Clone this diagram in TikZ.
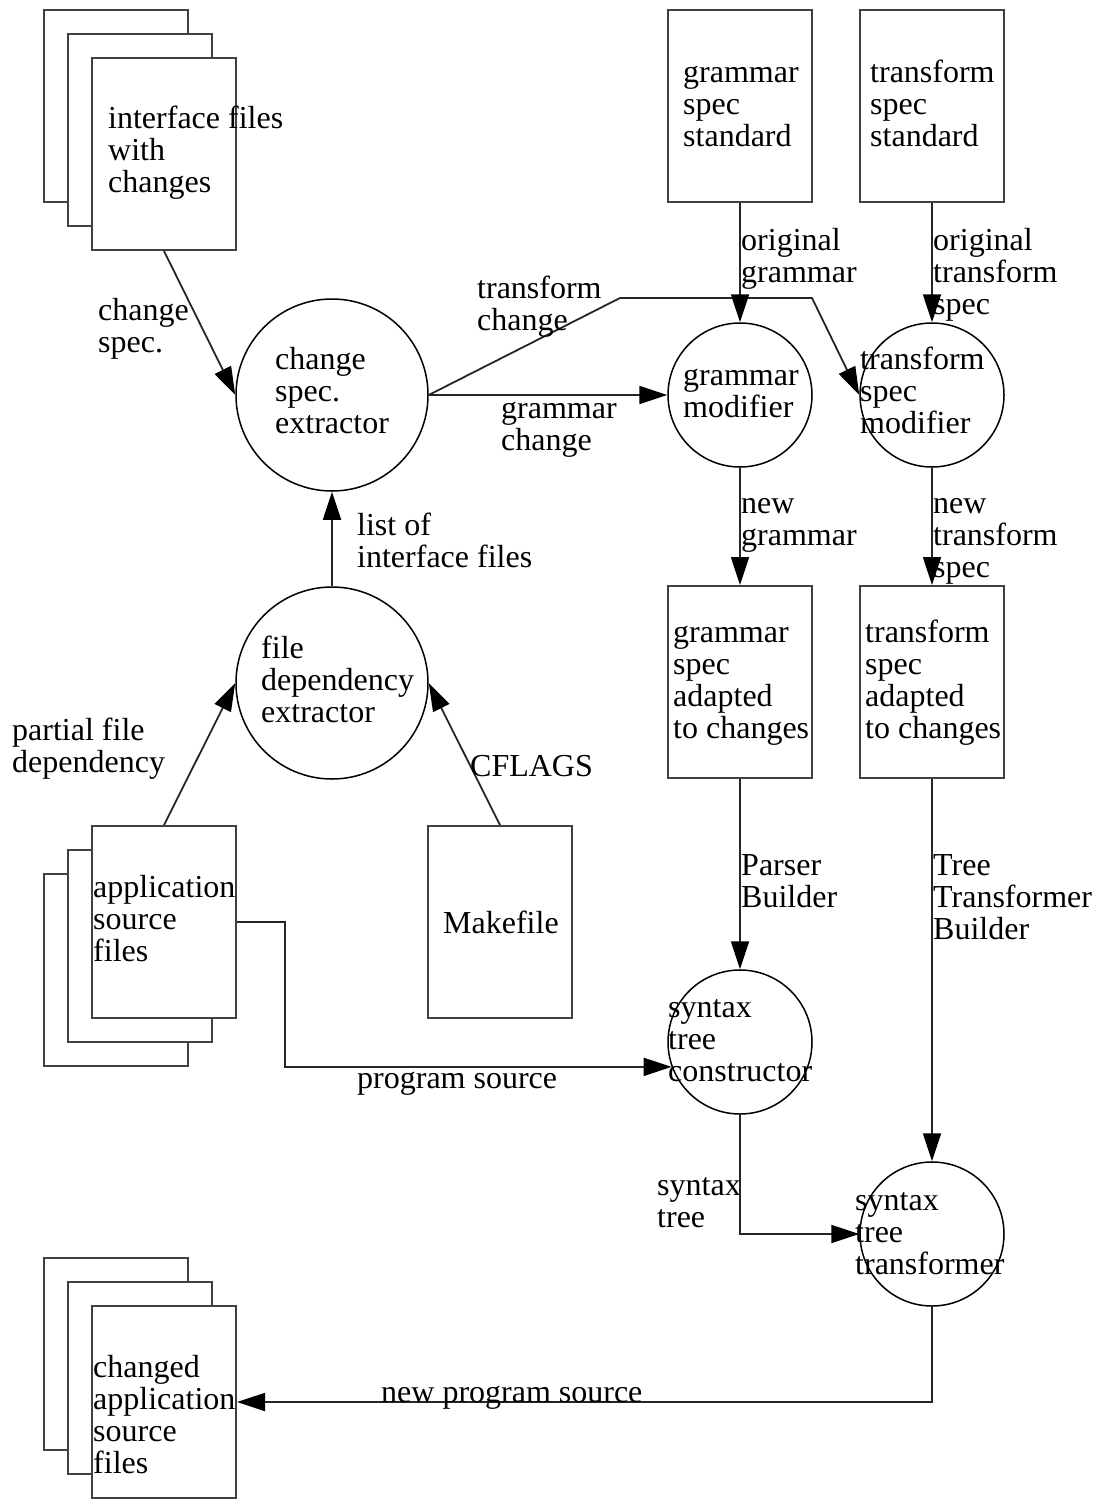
\documentclass[tikz,border=0pt]{standalone}
\usepackage{fontspec}
\setmainfont{Liberation Serif}
\usetikzlibrary{arrows.meta}
\newcommand\mlines[1]{\vtop{\baselineskip=32pt\lineskiplimit=-1000pt\halign{##\hfil\cr#1\crcr}}}
\tikzset{
  doc/.style={draw=black!75, line width=2pt, fill=white, minimum width=144pt, minimum height=192pt, inner sep=0pt},
  proc/.style={circle, draw=black, line width=1.5pt, inner sep=0pt},
  bigproc/.style={proc, minimum size=192pt},
  smallproc/.style={proc, minimum size=144pt},
  txt/.style={anchor=base west, inner sep=0pt, font=\fontsize{32}{32}\selectfont},
  link/.style={draw=black!85, line width=1.8pt},
  flow/.style={link, -{Triangle[length=28pt,width=18pt,color=black]}},
}
\begin{document}
\begin{tikzpicture}[x=1pt,y=-1pt]
\fill[white] (0,0) rectangle (1097,1499);
\useasboundingbox (0,0) rectangle (1097,1499);

% stacked documents
\node[doc] (if1) at (116,106) {};
\node[doc] (if2) at (140,130) {};
\node[doc] (if3) at (164,154) {};
\node[doc] (app1) at (116,970) {};
\node[doc] (app2) at (140,946) {};
\node[doc] (app3) at (164,922) {};
\node[doc] (chg1) at (116,1354) {};
\node[doc] (chg2) at (140,1378) {};
\node[doc] (chg3) at (164,1402) {};
% single documents
\node[doc] (gss) at (740,106) {};
\node[doc] (tss) at (932,106) {};
\node[doc] (gsa) at (740,682) {};
\node[doc] (tsa) at (932,682) {};
\node[doc] (mk) at (500,922) {};
% processes
\node[bigproc] (cse) at (332,395) {};
\node[bigproc] (fde) at (332,683) {};
\node[smallproc] (gm) at (740,395) {};
\node[smallproc] (tsm) at (932,395) {};
\node[smallproc] (stc) at (740,1042) {};
\node[smallproc] (stt) at (932,1234) {};

% texts inside shapes
\node[txt] (tif) at (108,128) {\mlines{interface files\cr with\cr changes}};
\node[txt] (tapp) at (93,897) {\mlines{application\cr source\cr files}};
\node[txt] (tchg) at (93,1377) {\mlines{changed\cr application\cr source\cr files}};
\node[txt] (tgss) at (683,82) {\mlines{grammar\cr spec\cr standard}};
\node[txt] (ttss) at (870,82) {\mlines{transform\cr spec\cr standard}};
\node[txt] (tgsa) at (673,642) {\mlines{grammar\cr spec\cr adapted\cr to changes}};
\node[txt] (ttsa) at (865,642) {\mlines{transform\cr spec\cr adapted\cr to changes}};
\node[txt] (tmk) at (443,933) {Makefile};
\node[txt] (tcse) at (275,369) {\mlines{change\cr spec.\cr extractor}};
\node[txt] (tfde) at (261,658) {\mlines{file\cr dependency\cr extractor}};
\node[txt] (tgm) at (683,385) {\mlines{grammar\cr modifier}};
\node[txt] (ttsm) at (860,369) {\mlines{transform\cr spec\cr modifier}};
\node[txt] (tstc) at (668,1017) {\mlines{syntax\cr tree\cr constructor}};
\node[txt] (tstt) at (855,1210) {\mlines{syntax\cr tree\cr transformer}};

% connectors
\coordinate (tc1) at (620,298);
\coordinate (tc2) at (812,298);
\draw[flow] (if3.south) -- (cse.west);
\draw[flow] (fde.north) -- (cse.south);
\draw[flow] (app3.north) -- (fde.west);
\draw[flow] (mk.north) -- (fde.east);
\draw[flow] (cse.east) -- (gm.west);
\draw[flow] (cse.east) -- (tc1) -- (tc2) -- (tsm.west);
\draw[flow] (gss.south) -- (gm.north);
\draw[flow] (tss.south) -- (tsm.north);
\draw[flow] (gm.south) -- (gsa.north);
\draw[flow] (tsm.south) -- (tsa.north);
\draw[flow] (gsa.south) -- (stc.north);
\draw[flow] (tsa.south) -- (stt.north);
\draw[flow] (app3.east) -- ++(48,0) |- (stc.200);
\draw[flow] (stc.south) |- (stt.west);
\draw[flow] (stt.south) |- (chg3.east);

% connector labels
\node[txt] (lcs) at (98,320) {\mlines{change\cr spec.}};
\node[txt] (ltc) at (477,298) {\mlines{transform\cr change}};
\node[txt] (lgc) at (501,418) {\mlines{grammar\cr change}};
\node[txt] (log) at (741,250) {\mlines{original\cr grammar}};
\node[txt] (lot) at (933,250) {\mlines{original\cr transform\cr spec}};
\node[txt] (lng) at (741,513) {\mlines{new\cr grammar}};
\node[txt] (lnt) at (933,513) {\mlines{new\cr transform\cr spec}};
\node[txt] (lli) at (357,535) {\mlines{list of\cr interface files}};
\node[txt] (lpf) at (12,740) {\mlines{partial file\cr dependency}};
\node[txt] (lcf) at (470,776) {CFLAGS};
\node[txt] (lpb) at (741,875) {\mlines{Parser\cr Builder}};
\node[txt] (ltt) at (933,875) {\mlines{Tree\cr Transformer\cr Builder}};
\node[txt] (lps) at (357,1088) {program source};
\node[txt] (lst) at (657,1195) {\mlines{syntax\cr tree}};
\node[txt] (lnp) at (381,1402) {new program source};
\end{tikzpicture}
\end{document}
